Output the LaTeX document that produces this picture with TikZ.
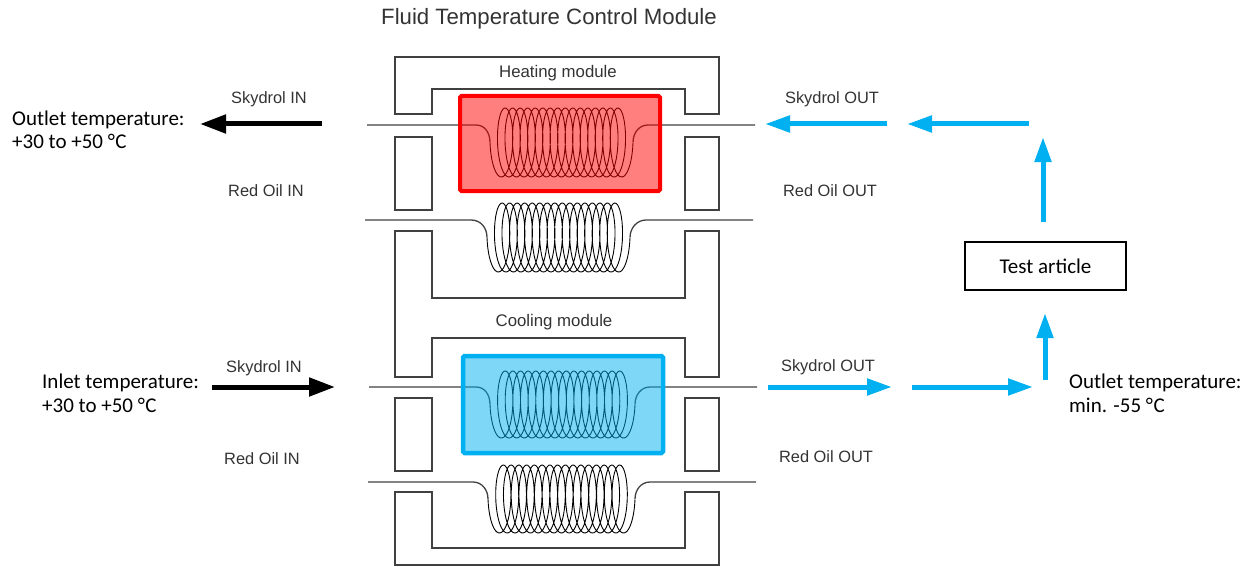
\documentclass[tikz,border=0pt]{standalone}
\usepackage{fontspec}
\setmainfont{Carlito}
\newfontfamily\arialf{Liberation Sans}
\usetikzlibrary{arrows.meta}
\definecolor{cyanblue}{HTML}{00B0F0}
\definecolor{structc}{HTML}{404040}
\definecolor{labelgray}{HTML}{333333}
\def\crx{9.5}
\newcommand\coilat[5]{% left x, centre y, width, ry, turns
  \pgfmathsetmacro\cp{(#3-2*\crx)/(#5+0.5)}
  \draw[coilline] plot[domain=0:{2*pi*(#5+0.5)}, samples=700, variable=\s]
    ({#1+\cp*\s/(2*pi)+\crx*(1-cos(\s r))},{#2+#4*sin(\s r)});
}
\begin{document}
\begin{tikzpicture}[x=1pt,y=-1pt,
  frame/.style={draw=structc, line width=1.4pt, line join=miter},
  pipe/.style={draw=structc, line width=1.3pt},
  coilline/.style={draw=black, line width=0.9pt},
  lbl/.style={font=\arialf\fontsize{16.4}{18}\selectfont, text=labelgray, inner sep=0pt, anchor=base},
  modlbl/.style={font=\arialf\fontsize{16.8}{18}\selectfont, text=labelgray, inner sep=0pt, anchor=base},
  titlelbl/.style={font=\arialf\fontsize{22.2}{24}\selectfont, text=labelgray, inner sep=0pt, anchor=base},
  cal/.style={font=\fontsize{21}{24}\selectfont, inner sep=0pt, anchor=base west},
  blackarrow/.style={draw=black, line width=5pt, -{Triangle[length=26pt,width=18pt]}},
  bluearrow/.style={draw=cyanblue, line width=5pt, -{Triangle[length=25pt,width=16pt]}},
  heatbox/.style={draw=red, line width=4pt, fill=red, fill opacity=0.5, rounded corners=1.5pt},
  coolbox/.style={draw=cyanblue, line width=4.5pt, fill=cyanblue, fill opacity=0.5, rounded corners=1.5pt},
  testbox/.style={draw=black, line width=1.4pt, minimum width=161pt, minimum height=48pt, font=\fontsize{21}{24}\selectfont}
]
\useasboundingbox (0,0) rectangle (1258,567);

% title
\node[titlelbl] (title) at (549,25) {Fluid Temperature Control Module};

% ---- frame structure ----
\draw[frame] (395,114) -- (395,57) -- (719,57) -- (719,114) -- (685,114) -- (685,89) -- (432,89) -- (432,114) -- cycle;
\draw[frame] (395,137) rectangle (432,210);
\draw[frame] (685,137) rectangle (719,210);
\draw[frame] (432,231) -- (395,231) -- (395,377) -- (432,377) -- (432,338) -- (685,338) -- (685,377) -- (719,377) -- (719,231) -- (685,231) -- (685,298) -- (432,298) -- cycle;
\draw[frame] (395,398) rectangle (432,471);
\draw[frame] (685,398) rectangle (719,471);
\draw[frame] (432,492) -- (395,492) -- (395,565) -- (719,565) -- (719,492) -- (685,492) -- (685,548) -- (432,548) -- cycle;

% ---- heating coils ----
\draw[pipe] (367,125) -- (476,125) .. controls (485,125) and (490,133) .. (490,142.5);
\draw[pipe] (633,142.5) .. controls (633,133) and (639,125) .. (648,125) -- (755,125);
\coilat{490}{142.5}{143}{34.5}{16}
\draw[pipe] (365,220) -- (471,220) .. controls (481,220) and (487,228) .. (487,237.5);
\draw[pipe] (630,237.5) .. controls (630,228) and (637,220) .. (646,220) -- (753,220);
\coilat{487}{237.5}{143}{34.5}{16}
\draw[heatbox] (460,96) rectangle (660,191);

% ---- cooling coils ----
\draw[pipe] (369,387) -- (476,387) .. controls (485,387) and (490,395) .. (490,404.5);
\draw[pipe] (635,404.5) .. controls (635,395) and (641,387) .. (650,387) -- (757,387);
\coilat{490}{404.5}{145}{33.5}{16}
\draw[pipe] (368,482) -- (473,482) .. controls (482,482) and (488,490) .. (488,499);
\draw[pipe] (635,499) .. controls (635,490) and (641,482) .. (650,482) -- (756,482);
\coilat{488}{499}{147}{34}{16}
\draw[coolbox] (463,356) rectangle (663,453);

% ---- module labels ----
\node[modlbl] (heatlbl) at (558,78) {Heating module};
\node[modlbl] (coollbl) at (554,326) {Cooling module};
\node[lbl] (skinh) at (269,104) {Skydrol IN};
\node[lbl] (roinh) at (266,196) {Red Oil IN};
\node[lbl] (skouth) at (832,104) {Skydrol OUT};
\node[lbl] (roouth) at (830,196) {Red Oil OUT};
\node[lbl] (skinc) at (264,372) {Skydrol IN};
\node[lbl] (roinc) at (262,464) {Red Oil IN};
\node[lbl] (skoutc) at (828,371) {Skydrol OUT};
\node[lbl] (rooutc) at (826,462) {Red Oil OUT};

% ---- temperature texts ----
\node[cal] (ot1) at (12,125) {Outlet temperature:};
\node[cal] (ot2) at (12,149) {+30 to +50 °\kern0.5pt C};
\node[cal] (it1) at (42,388) {Inlet temperature:};
\node[cal] (it2) at (42,412) {+30 to +50 °\kern0.5pt C};
\node[cal] (oc1) at (1069,388) {Outlet temperature:};
\node[cal] (oc2) at (1069,412) {min. -55 °\kern0.5pt C};

\node[testbox] (test) at (1045.5,266) {Test article};

% ---- arrows ----
\coordinate (bkt1) at (322,124); \coordinate (bkh1) at (200,124);
\coordinate (bkt2) at (212,387); \coordinate (bkh2) at (335,387);
\draw[blackarrow] (bkt1) -- (bkh1);
\draw[blackarrow] (bkt2) -- (bkh2);

\coordinate (a1t) at (887,124); \coordinate (a1h) at (765,124);
\coordinate (a2t) at (1029,124); \coordinate (a2h) at (907,124);
\coordinate (v1t) at (1043,222); \coordinate (v1h) at (1043,137);
\coordinate (v2t) at (1045,380); \coordinate (v2h) at (1045,313);
\coordinate (b1t) at (768,387); \coordinate (b1h) at (892,387);
\coordinate (b2t) at (912,387); \coordinate (b2h) at (1033,387);
\draw[bluearrow] (a1t) -- (a1h);
\draw[bluearrow] (a2t) -- (a2h);
\draw[bluearrow] (v1t) -- (v1h);
\draw[bluearrow] (v2t) -- (v2h);
\draw[bluearrow] (b1t) -- (b1h);
\draw[bluearrow] (b2t) -- (b2h);
\end{tikzpicture}
\end{document}
